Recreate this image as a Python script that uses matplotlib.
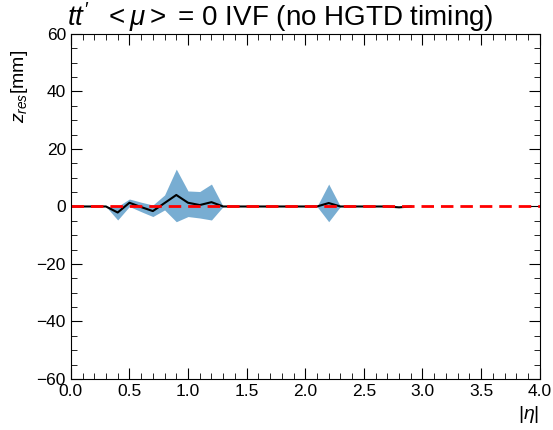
import numpy as np
import matplotlib.pyplot as plt
from matplotlib.ticker import MultipleLocator

plt.rcParams['font.family'] = ['Liberation Sans', 'DejaVu Sans']
plt.rcParams['mathtext.fontset'] = 'custom'
plt.rcParams['mathtext.rm'] = 'Liberation Sans'
plt.rcParams['mathtext.it'] = 'Liberation Sans:italic'

# |eta| bins and z residual (mean, band low/high) in mm
eta = [0.0, 0.1, 0.2, 0.3, 0.4, 0.5, 0.6, 0.7, 0.8, 0.9,
       1.0, 1.1, 1.2, 1.3, 1.4, 1.5, 1.6, 1.7, 1.8, 1.9,
       2.0, 2.1, 2.2, 2.3, 2.4, 2.5, 2.6, 2.7, 2.8, 2.9]
z_mean = [0.0, 0.0, 0.0, 0.0, -2.1, 1.3, -0.2, -1.6, 1.2, 4.0,
          1.3, 0.5, 1.5, 0.0, 0.0, 0.0, 0.0, 0.0, 0.0, 0.0,
          0.0, 0.0, 1.2, 0.0, 0.0, 0.0, 0.0, 0.0, -0.3, 0.0]
z_low = [0.0, 0.0, 0.0, 0.0, -4.7, 0.0, -1.8, -3.5, -1.2, -5.3,
         -3.5, -4.0, -4.7, 0.0, 0.0, 0.0, 0.0, 0.0, 0.0, 0.0,
         0.0, 0.0, -5.3, 0.0, 0.0, 0.0, 0.0, 0.0, -0.3, 0.0]
z_high = [0.0, 0.0, 0.0, 0.0, 0.0, 2.6, 1.5, 0.5, 4.0, 13.0,
          5.4, 5.2, 7.8, 0.0, 0.0, 0.0, 0.0, 0.0, 0.0, 0.0,
          0.0, 0.0, 7.8, 0.0, 0.0, 0.0, 0.0, 0.0, -0.3, 0.0]

fig = plt.figure(figsize=(5.53, 4.30), dpi=100)
ax = fig.add_axes([0.128, 0.1186, 0.848, 0.8024])

ax.fill_between(eta, z_low, z_high, color='tab:blue', alpha=0.6, linewidth=0)
ax.plot(eta, z_mean, color='black', linewidth=1.5)
ax.axhline(0, color='red', linestyle='--', linewidth=2, dashes=(4.5, 2.5))

ax.set_xlim(0, 4)
ax.set_ylim(-60, 60)
ax.xaxis.set_major_locator(MultipleLocator(0.5))
ax.xaxis.set_minor_locator(MultipleLocator(0.1))
ax.yaxis.set_major_locator(MultipleLocator(20))
ax.yaxis.set_minor_locator(MultipleLocator(5))
ax.tick_params(which='both', direction='in', top=True, right=True, labelsize=12.5)
ax.tick_params(which='major', length=8)
ax.tick_params(which='minor', length=4)

ax.set_xlabel(r'$|\eta|$', fontsize=14, loc='right')
ax.set_ylabel(r'$z_{res}$[mm]', fontsize=14, loc='top')
ax.yaxis.set_label_coords(-0.088, 0.955)
ax.set_title(r"$tt'$  $<\mu>$ = 0 IVF (no HGTD timing)", fontsize=20, loc='left', x=-0.008, pad=3)

fig.savefig('out.png', dpi=100)
